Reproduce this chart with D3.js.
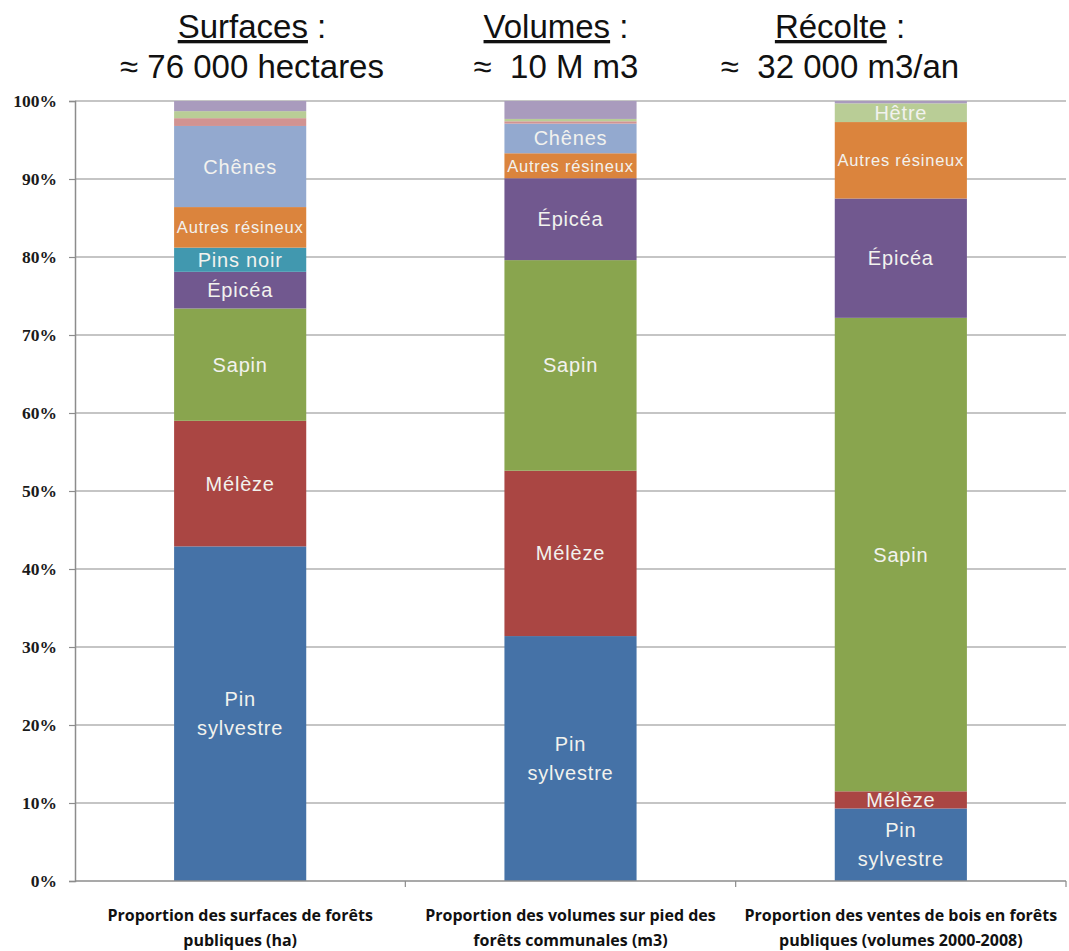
<!doctype html>
<html lang="fr">
<head>
  <meta charset="utf-8">
  <title>Forêts publiques</title>
  <script src="https://d3js.org/d3.v7.min.js"></script>
  <style>
    body { margin: 0; background: #fff; }
    svg { display: block; }
  </style>
</head>
<body>
  <div id="chart"></div>
  <script type="text/javascript">
  	// categories (two-line axis labels)
  	var categories = [
  		["Proportion des surfaces de forêts", "publiques (ha)"],
  		["Proportion des volumes sur pied des", "forêts communales (m3)"],
  		["Proportion des ventes de bois en forêts", "publiques (volumes 2000-2008)"]
  	];
  	var titles = [
  		["Surfaces", " :", "≈ 76 000 hectares"],
  		["Volumes", " :", "≈  10 M m3"],
  		["Récolte", " :", "≈  32 000 m3/an"]
  	];
  	var species = ["Pin sylvestre", "Mélèze", "Sapin", "Épicéa", "Pins noir",
  		"Autres résineux", "Chênes", "Autres feuillus", "Hêtre", "Divers"];

  	// shares in %, one value per species
  	var surfaces = [42.9, 16.1, 14.4, 4.7, 3.1, 5.2, 10.4, 1.0, 0.9, 1.3];
  	var volumes  = [31.4, 21.2, 27.0, 10.5, 0, 3.2, 3.8, 0.3, 0.3, 2.3];
  	var recolte  = [9.3, 2.2, 60.7, 15.3, 0, 9.8, 0, 0, 2.4, 0.3];

  	var yTicks = [0, 10, 20, 30, 40, 50, 60, 70, 80, 90, 100];
  	var colors = ["#4572A7", "#AA4643", "#89A54E", "#71588F", "#4198AF",
  		"#DB843D", "#93A9CF", "#D19392", "#B9CD96", "#A99BBD"];
  	// species that never get a label
  	var unlabelled = ["Autres feuillus", "Divers"];

  	var width = 1069, height = 951;
  	var plotLeft = 75, plotRight = 1066, plotTop = 101, plotBottom = 881;

  	var rows = [surfaces, volumes, recolte].map(function(vals, i) {
  		var r = {cat: i};
  		species.forEach(function(s, j) { r[s] = vals[j]; });
  		return r;
  	});

  	var stack = d3.stack().keys(species)(rows);

  	var x = d3.scaleBand()
  		.domain([0, 1, 2])
  		.range([plotLeft, plotRight])
  		.paddingInner(0.6)
  		.paddingOuter(0.3);

  	var y = d3.scaleLinear().domain([0, 100]).range([plotBottom, plotTop]);

  	var color = d3.scaleOrdinal().domain(species).range(colors);

  	var svg = d3.select('#chart')
  		.append('svg')
  		.attr('width', width)
  		.attr('height', height);

  	// gridlines
  	svg.append('g')
  		.selectAll('line')
  		.data(yTicks.slice(1))
  		.enter()
  		.append('line')
  		.attr('x1', plotLeft).attr('x2', plotRight)
  		.attr('y1', function(d) { return y(d); })
  		.attr('y2', function(d) { return y(d); })
  		.attr('stroke', '#8c8c8c')
  		.attr('stroke-width', 1.2);

  	// y axis
  	var yAxis = svg.append('g')
  		.attr('transform', 'translate(' + plotLeft + ',0)')
  		.call(d3.axisLeft(y).tickValues(yTicks).tickSize(6).tickPadding(12)
  			.tickFormat(function(d) { return d + '%'; }));
  	yAxis.select('.domain').attr('stroke', '#8c8c8c').attr('stroke-width', 1.5);
  	yAxis.selectAll('.tick line').attr('stroke', '#8c8c8c').attr('stroke-width', 1.2);
  	yAxis.selectAll('.tick text')
  		.style('font-family', 'Liberation Serif, DejaVu Serif, serif')
  		.style('font-weight', '700')
  		.style('font-size', '17.5px')
  		.attr('fill', '#1a1a1a');

  	// bars
  	var layers = svg.append('g')
  		.selectAll('g')
  		.data(stack)
  		.enter()
  		.append('g')
  		.attr('fill', function(d) { return color(d.key); });

  	layers.selectAll('rect')
  		.data(function(d) { return d; })
  		.enter()
  		.append('rect')
  		.attr('x', function(d) { return x(d.data.cat); })
  		.attr('width', x.bandwidth())
  		.attr('y', function(d) { return y(d[1]); })
  		.attr('height', function(d) { return y(d[0]) - y(d[1]); });

  	// x axis baseline and category ticks
  	svg.append('line')
  		.attr('x1', plotLeft).attr('x2', plotRight)
  		.attr('y1', plotBottom).attr('y2', plotBottom)
  		.attr('stroke', '#8c8c8c')
  		.attr('stroke-width', 1.5);
  	svg.append('g')
  		.selectAll('line')
  		.data([1, 2, 3])
  		.enter()
  		.append('line')
  		.attr('x1', function(d) { return plotLeft + d * x.step(); })
  		.attr('x2', function(d) { return plotLeft + d * x.step(); })
  		.attr('y1', plotBottom).attr('y2', plotBottom + 6)
  		.attr('stroke', '#8c8c8c')
  		.attr('stroke-width', 1.2);

  	// segment labels
  	var labels = [];
  	stack.forEach(function(layer) {
  		layer.forEach(function(d) {
  			if (unlabelled.indexOf(layer.key) < 0 && d[1] - d[0] >= 2)
  				labels.push({key: layer.key, cat: d.data.cat, mid: (d[0] + d[1]) / 2});
  		});
  	});

  	var lab = svg.append('g')
  		.selectAll('text')
  		.data(labels)
  		.enter()
  		.append('text')
  		.attr('x', function(d) { return x(d.cat) + x.bandwidth() / 2; })
  		.attr('y', function(d) { return y(d.mid); })
  		.attr('text-anchor', 'middle')
  		.attr('dominant-baseline', 'central')
  		.style('font-family', 'Liberation Sans, Arial, sans-serif')
  		.style('font-size', function(d) { return d.key === 'Autres résineux' ? '16.5px' : '20px'; })
  		.style('letter-spacing', '0.8px')
  		.attr('fill', '#f2f2ee');

  	lab.each(function(d) {
  		var t = d3.select(this);
  		var parts = d.key === 'Pin sylvestre' ? ['Pin', 'sylvestre'] : [d.key];
  		parts.forEach(function(p, i) {
  			t.append('tspan')
  				.attr('x', x(d.cat) + x.bandwidth() / 2)
  				.attr('dy', parts.length > 1 ? (i === 0 ? '-0.72em' : '1.45em') : 0)
  				.text(p);
  		});
  	});

  	// category labels
  	svg.append('g')
  		.selectAll('text')
  		.data(categories)
  		.enter()
  		.append('text')
  		.attr('text-anchor', 'middle')
  		.style('font-family', 'Open Sans, Liberation Sans, sans-serif')
  		.style('font-weight', '700')
  		.style('font-size', '16px')
  		.attr('fill', '#111')
  		.each(function(d, i) {
  			var t = d3.select(this);
  			d.forEach(function(line, k) {
  				t.append('tspan')
  					.attr('x', x(i) + x.bandwidth() / 2)
  					.attr('y', 921 + k * 25)
  					.text(line);
  			});
  		});

  	// titles above each bar
  	var titleX = [252, 556, 840];
  	var tt = svg.append('g')
  		.selectAll('g')
  		.data(titles)
  		.enter()
  		.append('g');
  	tt.append('text')
  		.attr('x', function(d, i) { return titleX[i]; })
  		.attr('y', 38)
  		.attr('text-anchor', 'middle')
  		.style('font-family', 'Liberation Sans, Arial, sans-serif')
  		.style('font-size', '33px')
  		.attr('fill', '#111')
  		.each(function(d) {
  			var t = d3.select(this);
  			t.append('tspan').attr('text-decoration', 'underline').text(d[0]);
  			t.append('tspan').text(d[1]);
  		});
  	tt.append('text')
  		.attr('x', function(d, i) { return titleX[i]; })
  		.attr('y', 78)
  		.attr('text-anchor', 'middle')
  		.style('font-family', 'Liberation Sans, Arial, sans-serif')
  		.style('font-size', '33px')
  		.style('white-space', 'pre')
  		.attr('fill', '#111')
  		.text(function(d) { return d[2]; });
  </script>
</body>
</html>
